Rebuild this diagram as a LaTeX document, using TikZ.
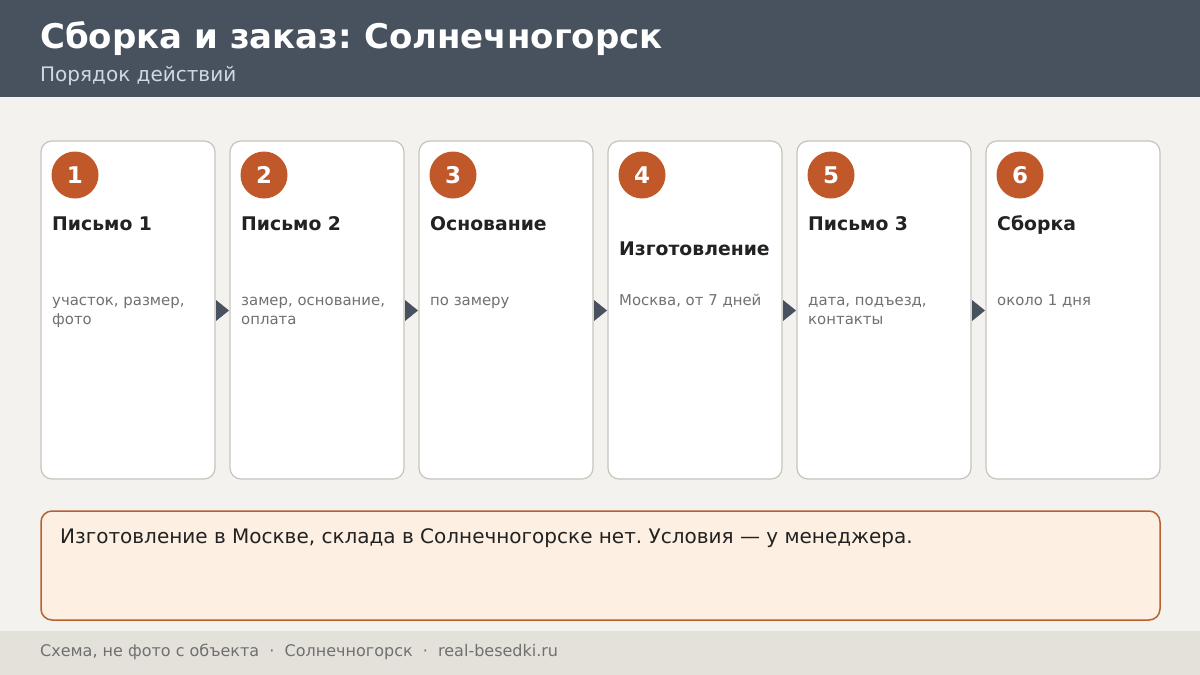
\documentclass[tikz,border=0pt]{standalone}
\usepackage{fontspec}
\setmainfont{DejaVu Sans}
\frenchspacing
\definecolor{hdr}{HTML}{48515E}
\definecolor{bg}{HTML}{F4F2EE}
\definecolor{cardb}{HTML}{C8C4BC}
\definecolor{acc}{HTML}{C0582A}
\definecolor{txt}{HTML}{222222}
\definecolor{gr}{HTML}{707070}
\definecolor{notef}{HTML}{FDEFE1}
\definecolor{noteb}{HTML}{B8602E}
\definecolor{foot}{HTML}{E4E1DB}
\definecolor{sub}{HTML}{D0D8E2}
\begin{document}
\begin{tikzpicture}[x=1pt,y=-1pt,
  card/.style={draw=cardb,line width=1.2pt,fill=white,rounded corners=11pt},
  badge/.style={circle,fill=acc,minimum size=47pt,inner sep=0pt,text=white,font=\fontsize{23}{23}\selectfont\bfseries},
  ctitle/.style={anchor=base west,inner sep=0pt,text=txt,font=\fontsize{18.8}{20}\selectfont\bfseries},
  cdesc/.style={anchor=north west,inner sep=0pt,text=gr,align=left,font=\fontsize{14.9}{19}\selectfont},
  tri/.style={fill=hdr}]
\useasboundingbox (0,0) rectangle (1200,675);
\fill[bg] (0,0) rectangle (1200,675);
\fill[hdr] (0,0) rectangle (1200,97);
\node[anchor=base west,inner sep=0pt,text=white,font=\fontsize{34}{34}\selectfont\bfseries] (title) at (40,48) {Сборка и заказ: Солнечногорск};
\node[anchor=base west,inner sep=0pt,text=sub,font=\fontsize{20}{20}\selectfont] (subtitle) at (40,81) {Порядок действий};
\foreach \i/\t/\d/\ty in {1/Письмо 1/{участок, размер,\\фото}/230,
  2/Письмо 2/{замер, основание,\\оплата}/230,
  3/Основание/{по замеру}/230,
  4/Изготовление/{Москва, от 7 дней}/255,
  5/Письмо 3/{дата, подъезд,\\контакты}/230,
  6/Сборка/{около 1 дня}/230}{
  \pgfmathsetmacro{\xl}{41+189*(\i-1)}
  \draw[card] (\xl,141) rectangle ++(174,338);
  \node[badge] (b\i) at (\xl+34,175) {\i};
  \node[ctitle] (t\i) at (\xl+11,\ty) {\t};
  \node[cdesc] (d\i) at (\xl+11,291.7) {\strut\d};
}
\foreach \i in {1,...,5}{
  \pgfmathsetmacro{\xa}{216+189*(\i-1)}
  \fill[tri] (\xa,300) -- (\xa+13,310.5) -- (\xa,321) -- cycle;
}
\draw[draw=noteb,line width=1.5pt,fill=notef,rounded corners=11pt] (41,511) rectangle (1160,620);
\node[anchor=base west,inner sep=0pt,text=txt,font=\fontsize{20}{20}\selectfont] (note) at (60,543) {Изготовление в Москве, склада в Солнечногорске нет. Условия — у менеджера.};
\fill[foot] (0,631) rectangle (1200,675);
\node[anchor=base west,inner sep=0pt,text=gr,font=\fontsize{16}{16}\selectfont] (footer) at (40,656) {Схема, не фото с объекта \ \textperiodcentered\ \ Солнечногорск \ \textperiodcentered\ \ real-besedki.ru};
\end{tikzpicture}
\end{document}
